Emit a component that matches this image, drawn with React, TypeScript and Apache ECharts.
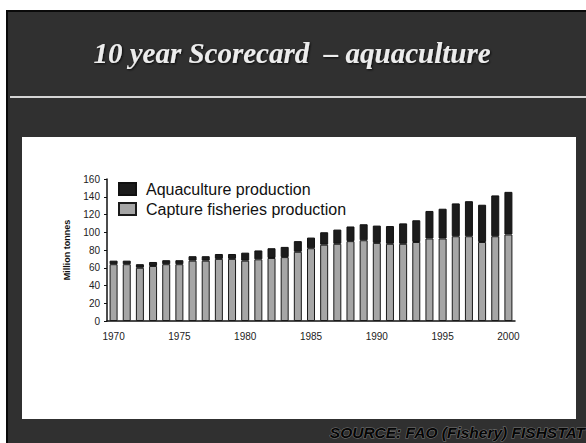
import React, { useEffect, useRef } from "react";
import * as echarts from "echarts";

// Years shown on the category axis
const years: string[] = [
  "1970", "1971", "1972", "1973", "1974", "1975", "1976", "1977", "1978", "1979",
  "1980", "1981", "1982", "1983", "1984", "1985", "1986", "1987", "1988", "1989",
  "1990", "1991", "1992", "1993", "1994", "1995", "1996", "1997", "1998", "1999",
  "2000",
];

// Capture fisheries production, million tonnes
const capture: number[] = [
  64, 64, 60, 62, 64, 64, 68, 68, 70, 70,
  68, 69.5, 71, 72, 78, 82, 86, 87, 90, 91,
  88, 87, 87, 89, 93, 93, 95.5, 95.5, 89, 95.5,
  97.5,
];

// Aquaculture production, million tonnes (stacked on top of capture)
const aquaculture: number[] = [
  4, 4, 4, 4.5, 4.5, 4.5, 5, 5, 5.5, 5.5,
  9, 10, 11, 11.5, 12, 12, 14, 16, 16.5, 18,
  19.5, 20, 23, 24.5, 31, 33.5, 37, 39.5, 42, 46,
  48,
];

const yTicks = { min: 0, max: 160, interval: 20 };

const titleText = "10 year Scorecard  \u2013 aquaculture";
const sourceText = "SOURCE: FAO (Fishery) FISHSTAT";

export default function App() {
  const ref = useRef<HTMLDivElement>(null);

  useEffect(() => {
    if (!ref.current) return;
    const chart = echarts.init(ref.current, null, { renderer: "svg" });

    chart.setOption({
      animation: false,
      backgroundColor: "#ffffff",
      graphic: [
        // dark slide background
        { type: "rect", z: -20, shape: { x: 6, y: 10, width: 580, height: 433 }, style: { fill: "#303030" } },
        { type: "rect", z: -19, shape: { x: 6, y: 10, width: 2, height: 433 }, style: { fill: "#0a0a0a" } },
        { type: "rect", z: -19, shape: { x: 6, y: 10, width: 580, height: 2 }, style: { fill: "#0a0a0a" } },
        // rule under the heading
        { type: "rect", z: -18, shape: { x: 10, y: 96, width: 576, height: 2 }, style: { fill: "#d4d4d4" } },
        // white chart panel
        { type: "rect", z: -18, shape: { x: 22, y: 137, width: 554, height: 282 }, style: { fill: "#ffffff" } },
        {
          type: "text",
          z: 10,
          x: 292,
          y: 53,
          style: {
            text: titleText,
            fill: "#ececec",
            font: "italic bold 29px 'Liberation Serif', 'Times New Roman', serif",
            align: "center",
            verticalAlign: "middle",
            textShadowColor: "rgba(0,0,0,0.8)",
            textShadowBlur: 2,
            textShadowOffsetX: 1,
            textShadowOffsetY: 1,
          },
        },
        {
          type: "text",
          z: 10,
          x: 585,
          y: 432,
          style: {
            text: sourceText,
            fill: "#050505",
            stroke: "#7a7a7a",
            lineWidth: 1,
            font: "italic bold 15.5px 'Liberation Sans', Arial, sans-serif",
            align: "right",
            verticalAlign: "middle",
          },
        },
      ],
      legend: {
        orient: "vertical",
        left: 118,
        top: 181,
        padding: 0,
        itemWidth: 17,
        itemHeight: 12,
        itemGap: 4,
        icon: "rect",
        data: ["Aquaculture production", "Capture fisheries production"],
        textStyle: {
          fontFamily: "'Liberation Sans', Arial, sans-serif",
          fontSize: 16,
          color: "#111",
          padding: [0, 0, 0, 5],
        },
      },
      grid: { left: 107, right: 71, top: 179, bottom: 122, containLabel: false },
      xAxis: {
        type: "category",
        data: years,
        boundaryGap: true,
        axisLine: { lineStyle: { color: "#111", width: 1.5 } },
        axisTick: { interval: 4, length: 4, lineStyle: { color: "#111" } },
        axisLabel: {
          interval: 4,
          margin: 10,
          fontSize: 10,
          color: "#222",
          fontFamily: "'Liberation Sans', Arial, sans-serif",
        },
        splitLine: { show: false },
      },
      yAxis: {
        type: "value",
        min: yTicks.min,
        max: yTicks.max,
        interval: yTicks.interval,
        name: "Million tonnes",
        nameLocation: "middle",
        nameGap: 36,
        nameRotate: 90,
        nameTextStyle: {
          fontSize: 9,
          fontWeight: "bold",
          color: "#111",
          fontFamily: "'Liberation Sans', Arial, sans-serif",
        },
        axisLine: { show: true, lineStyle: { color: "#111", width: 1.5 } },
        axisTick: { show: true, length: 3, lineStyle: { color: "#111" } },
        axisLabel: {
          margin: 7,
          fontSize: 10,
          color: "#222",
          fontFamily: "'Liberation Sans', Arial, sans-serif",
        },
        splitLine: { show: false },
      },
      series: [
        {
          name: "Capture fisheries production",
          type: "bar",
          stack: "total",
          data: capture,
          barWidth: 8,
          itemStyle: { color: "#a6a6a6", borderColor: "#1a1a1a", borderWidth: 1 },
        },
        {
          name: "Aquaculture production",
          type: "bar",
          stack: "total",
          data: aquaculture,
          barWidth: 8,
          itemStyle: { color: "#1c1c1c", borderColor: "#111", borderWidth: 1 },
        },
      ],
    });

    return () => chart.dispose();
  }, []);

  return (
    <div
      ref={ref}
      style={{ position: "fixed", left: 0, top: 0, width: 586, height: 443 }}
    />
  );
}
